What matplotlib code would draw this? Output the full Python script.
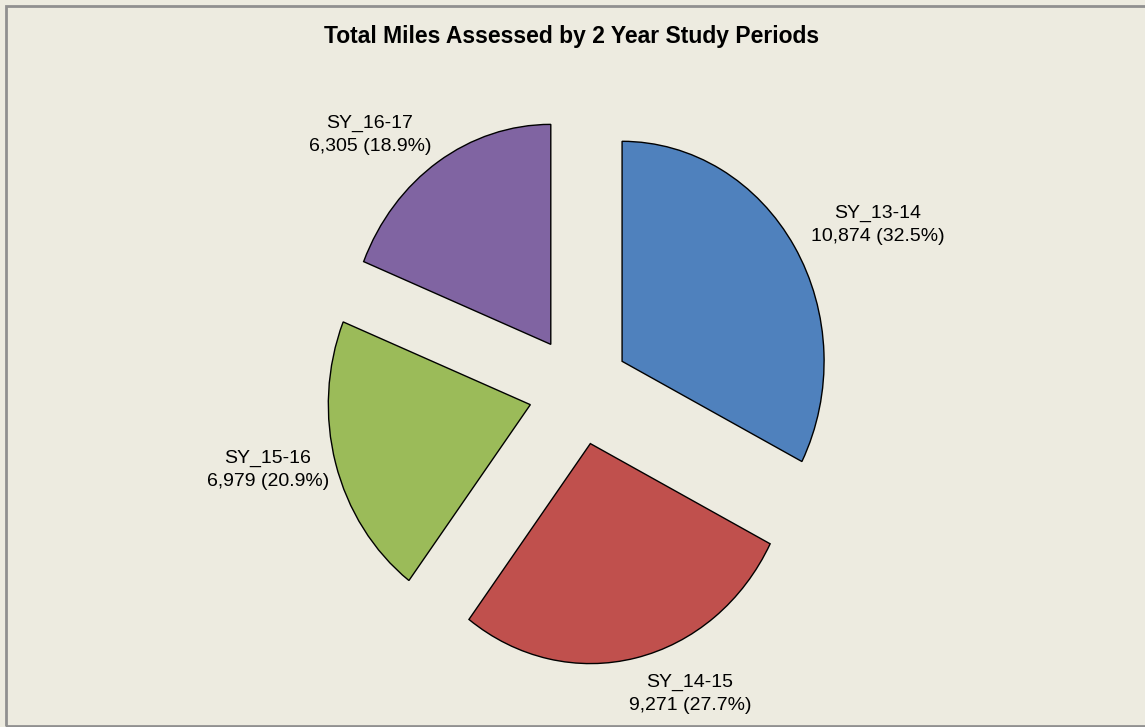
import matplotlib.pyplot as plt
from matplotlib.patches import Rectangle

periods = ["SY_13-14", "SY_14-15", "SY_15-16", "SY_16-17"]
miles = [10874, 9271, 6979, 6305]
colors = ["#4F81BD", "#C0504D", "#9BBB59", "#8064A2"]

# label centres in pixels (x from left, y from top)
label_px = [(878, 225), (690, 694), (268, 470), (370, 135)]

plt.rcParams["font.family"] = ["Liberation Sans", "DejaVu Sans"]
bg = "#EDEBE0"

W, H = 1145, 727
cx, cy = 579, 390      # pie centre in pixels
rx, ry = 202, 220      # radii in pixels (slightly stretched vertically)

fig = plt.figure(figsize=(W / 100, H / 100), dpi=100, facecolor=bg)
ax = fig.add_axes([0, 0, 1, 1])
ax.set_facecolor(bg)

ax.pie(miles, colors=colors, startangle=90, counterclock=False,
       explode=[0.25] * len(miles), radius=1,
       wedgeprops=dict(edgecolor="black", linewidth=1.0))
ax.set_aspect("auto")
ax.set_xlim(-cx / rx, (W - cx) / rx)
ax.set_ylim(-(H - cy) / ry, cy / ry)
ax.axis("off")

total = sum(miles)
for name, val, (px, py) in zip(periods, miles, label_px):
    ax.text((px - cx) / rx, (cy - py) / ry,
            f"{name}\n{val:,} ({val / total * 100:.1f}%)",
            ha="center", va="center", fontsize=14, linespacing=1.4)

fig.text(572 / W, 1 - 36 / H, "Total Miles Assessed by 2 Year Study Periods",
         ha="center", va="center", fontsize=16.5, fontweight="bold")

# thin grey frame around the chart area
fig.patches.append(Rectangle((6 / W, 1 / H), 1.0, 1 - 7 / H, transform=fig.transFigure,
                             fill=False, edgecolor="#909090", linewidth=2))

fig.savefig("out.png", dpi=100, facecolor=bg)
